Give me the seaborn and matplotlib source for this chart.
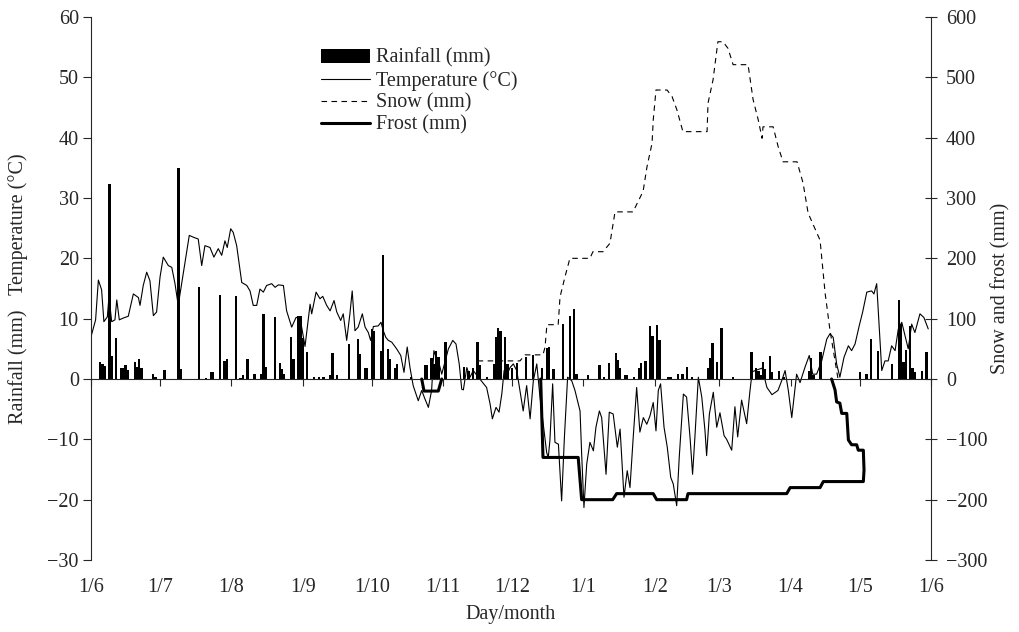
import matplotlib
matplotlib.use('Agg')
import matplotlib.pyplot as plt
import seaborn as sns

# ---------------- data ----------------
month_day = [0, 30, 61, 92, 122, 153, 183, 214, 245, 273, 304, 334, 365]
month_labels = ['1/6', '1/7', '1/8', '1/9', '1/10', '1/11', '1/12',
                '1/1', '1/2', '1/3', '1/4', '1/5', '1/6']

rain_day = [4, 5, 6, 8, 9, 11, 13, 14, 15, 16, 19, 20, 21, 22, 27, 28, 32, 38, 39, 47,
            50, 52, 53, 56, 58, 59, 63, 65, 66, 68, 71, 74, 75, 76, 80, 82, 83, 84, 87, 88,
            90, 91, 92, 94, 97, 99, 101, 104, 105, 107, 112, 116, 117, 119, 120, 122, 123,
            126, 127, 129, 130, 132, 133, 139, 145, 146, 148, 149, 150, 151, 154, 162, 164,
            166, 168, 169, 172, 175, 176, 177, 178, 180, 181, 183, 185, 189, 192, 196, 198,
            199, 201, 205, 208, 210, 211, 216, 221, 223, 225, 228, 229, 230, 232, 233, 236,
            238, 239, 241, 243, 244, 246, 247, 251, 252, 255, 257, 259, 261, 268, 269, 270,
            272, 274, 279, 287, 289, 290, 291, 292, 293, 295, 296, 299, 301, 312, 313, 314,
            317, 334, 337, 339, 342, 348, 351, 352, 353, 354, 356, 357, 358, 361, 363]
rain_mm = [2.9, 2.5, 2.2, 32.3, 3.8, 6.8, 1.8, 1.8, 2.4, 1.5, 2.9, 2.0, 3.3, 1.8, 0.9, 0.4, 1.5, 35.0, 1.6, 15.2,
           0.2, 1.2, 1.2, 14.0, 3.0, 3.3, 13.7, 0.2, 0.7, 3.3, 0.9, 0.9, 10.7, 2.0, 10.2, 2.7, 1.7, 0.8, 7.0, 3.3,
           10.4, 10.4, 6.8, 4.4, 0.3, 0.3, 0.3, 0.7, 4.3, 0.6, 5.8, 6.6, 4.1, 1.8, 1.8, 8.3, 8.0,
           4.7, 20.5, 5.0, 3.3, 1.9, 2.5, 0.3, 2.4, 2.4, 3.5, 2.5, 4.7, 3.6, 6.2, 2.0, 1.4,
           1.8, 6.2, 2.4, 0.4, 2.5, 7.0, 8.5, 8.0, 7.0, 2.5, 1.8, 2.6, 3.7, 4.0, 1.8, 5.1,
           5.3, 1.7, 9.1, 10.4, 11.6, 0.8, 0.7, 2.3, 0.3, 2.6, 4.3, 3.2, 1.9, 0.7, 0.7, 0.4,
           1.8, 2.6, 3.0, 8.8, 7.2, 9.0, 6.4, 0.3, 0.3, 0.9, 0.8, 2.0, 0.4, 1.8, 3.4, 6.0,
           2.8, 8.5, 0.3, 4.4, 1.8, 1.4, 0.6, 2.9, 1.7, 3.8, 1.1, 1.4, 0.3, 1.4, 3.4, 0.6,
           4.5, 1.1, 0.9, 6.6, 4.7, 2.5, 13.1, 9.1, 2.8, 4.8, 8.8, 1.8, 1.1, 1.3, 4.5]

temp_day = [0, 2.0, 3.2, 4.6, 5.6, 7.1, 7.8, 9.0, 10.4, 11.2,
            12.3, 14.0, 16.2, 18.4, 20.6, 21.3, 22.7, 24.2, 25.6, 27.1,
            28.5, 30.0, 31.4, 33.6, 35.1, 36.5, 37.9, 39.4, 40.8, 42.7,
            44.5, 46.6, 48.1, 49.5, 51.7, 53.4, 55.3, 56.8, 58.2, 59.2,
            60.7, 61.8, 63.3, 65.5, 67.7, 69.1, 70.5, 72.0, 73.4, 74.9,
            76.3, 78.5, 80.0, 81.4, 83.6, 85.0, 87.2, 89.1, 90.8, 93.0,
            95.2, 95.9, 97.8, 99.5, 100.7, 102.4, 103.9, 105.6, 106.8, 108.5,
            109.6, 111.1, 112.5, 113.5, 114.7, 116.1, 117.9, 119.1, 120.5, 121.5,
            122.7, 124.8, 126.0, 127.0, 128.1, 129.2, 130.7, 132.8, 134.6, 136.0,
            137.4, 138.6, 140.0, 142.2, 143.7, 145.1, 146.6, 148.0, 149.0, 150.2,
            151.3, 152.4, 153.8, 155.3, 157.2, 158.6, 160.0, 161.1, 161.8, 163.3,
            164.7, 166.1, 168.3, 170.2, 171.9, 173.4, 174.4, 176.0, 177.3, 178.5,
            179.5, 180.6, 182.1, 183.5, 185.0, 186.4, 187.8, 189.3, 190.8, 192.2,
            193.7, 195.1, 196.5, 198.0, 198.7, 199.4, 200.6, 201.6, 203.1, 204.5,
            205.7, 207.1, 208.9, 210.3, 212.5, 213.2, 214.2, 215.4, 216.8, 218.3,
            219.4, 220.9, 221.9, 223.8, 225.2, 226.9, 228.7, 229.9, 231.6, 233.0,
            234.2, 235.6, 237.1, 238.5, 240.0, 241.5, 242.9, 244.3, 245.5, 246.5,
            247.5, 249.0, 250.4, 251.9, 253.0, 254.5, 255.6, 257.4, 258.8, 260.3,
            261.4, 262.4, 263.9, 265.4, 266.8, 267.5, 268.7, 270.4, 271.9, 273.3,
            275.1, 276.2, 278.4, 279.8, 281.0, 282.7, 284.9, 286.3, 287.3, 289.3,
            291.6, 293.7, 295.9, 298.5, 300.1, 301.6, 303.0, 304.5, 305.5, 306.6,
            308.1, 310.2, 312.1, 313.6, 315.3, 317.5, 319.7, 321.1, 322.5, 324.0,
            325.4, 327.2, 329.1, 330.5, 332.0, 333.8, 335.3, 337.1, 339.2, 340.2,
            341.4, 342.5, 343.6, 345.0, 346.4, 347.9, 349.4, 350.8, 352.3, 353.7,
            355.1, 356.6, 358.0, 360.2, 361.9, 363.8]
temp_c = [7.0, 9.8, 16.4, 14.8, 9.5, 10.3, 13.6, 9.5, 9.8, 13.1,
          9.8, 10.1, 10.4, 14.1, 13.5, 12.2, 15.5, 17.7, 16.3, 10.5,
          11.1, 16.9, 20.2, 18.8, 18.5, 15.8, 12.2, 15.8, 19.1, 23.8,
          23.5, 23.2, 18.8, 22.1, 21.8, 20.2, 21.6, 20.5, 22.9, 21.8,
          24.9, 24.3, 22.1, 16.0, 15.5, 14.6, 12.2, 12.2, 14.9, 14.4,
          15.5, 15.8, 15.2, 15.6, 15.5, 11.3, 8.6, 10.2, 10.2, 5.4,
          12.4, 10.8, 14.4, 13.3, 13.7, 12.2, 11.3, 13.0, 11.1, 9.7,
          10.8, 6.4, 10.8, 14.6, 8.0, 8.6, 10.8, 8.6, 7.7, 6.4,
          8.7, 8.8, 9.4, 8.0, 6.9, 6.4, 6.1, 5.0, 3.9, 1.1,
          5.3, 1.9, -1.1, -3.6, -1.9, -3.3, -4.7, -1.9, 4.7, 3.3,
          2.5, 0.8, 2.8, 5.0, 6.4, 5.8, 2.5, -1.7, -1.8, 1.9,
          0.3, 1.4, 0.3, -0.6, -1.4, -4.1, -6.6, -4.7, -5.5, -2.5,
          1.4, 0.6, 1.9, 2.5, 1.4, -1.9, -5.3, -1.1, -6.6, -0.3,
          2.5, -3.0, -7.5, -12.2, -13.0, -10.2, -0.8, -10.5, -10.8, -20.2,
          -9.7, 0.3, -0.3, -1.9, -5.3, -12.4, -21.3, -14.1, -10.5, -11.9,
          -8.0, -5.3, -6.4, -15.8, -5.5, -5.8, -11.3, -8.3, -19.6, -15.2,
          -18.0, -9.7, -1.4, -8.8, -6.4, -7.5, -6.1, -3.9, -8.6, -1.9,
          -0.8, -8.0, -11.3, -16.3, -17.4, -21.0, -13.0, -2.5, -3.0, -9.7,
          -15.8, -9.7, 0.3, -3.0, -8.6, -12.7, -5.8, -2.2, -8.0, -5.6,
          -9.4, -10.0, -11.8, -4.6, -9.6, -3.5, -7.4, -2.1, 1.2, 1.5,
          1.8, -1.4, -2.6, -1.9, -0.3, 1.4, -1.9, -6.4, -3.0, 0.8,
          -0.6, 1.9, 3.9, 0.8, 0.8, 3.0, 6.6, 7.5, 6.9, 2.5,
          0.3, 3.6, 5.5, 4.7, 5.8, 8.8, 11.1, 14.4, 14.6, 14.1,
          15.8, 8.6, 1.4, 3.0, 3.0, 5.5, 4.7, 8.3, 9.4, 7.2,
          5.0, 9.1, 7.7, 10.8, 10.2, 8.3]

snow_day = [168, 186.4, 188.6, 196.4, 197.3, 198.1, 203.0, 203.8, 206.0, 208.1,
            216.8, 218.1, 222.5, 225.5, 227.7, 235.5, 239.9, 241.6, 243.8, 244.3,
            245.5, 250.3, 252.5, 254.6, 257.2, 267.7, 268.1, 270.3, 272.4, 274.6,
            276.8, 279.0, 285.5, 287.7, 289.9, 291.6, 292.0, 296.4, 298.6, 300.7,
            306.8, 309.4, 311.6, 316.8, 319.0, 321.1, 324.6]
snow_mm = [30, 30, 40, 40, 53, 90, 90, 136, 170, 200,
           200, 211, 211, 225, 277, 277, 311, 352, 391, 429,
           479, 479, 468, 446, 410, 410, 457, 496, 559, 559,
           548, 521, 521, 463, 430, 399, 418, 418, 385, 360,
           360, 325, 275, 230, 142, 81, 0]

frost_day = [195.4, 196.4, 211.7, 213.2, 226.7, 228.4, 244.3, 245.8, 258.8, 259.4,
             302.3, 303.8, 316.8, 318.2, 335.6, 335.9, 335.6, 333.4, 332.7, 330.5,
             329.1, 328.4, 326.2, 325.4, 324.0, 323.3, 321.8]
frost_mm = [0, -130, -130, -200, -200, -190, -190, -200, -200, -190,
            -190, -180, -180, -170, -170, -151, -118, -118, -109, -109,
            -101, -57, -57, -40, -38, -18, 0]

frost_nov_day = [143.7, 144.7, 150.9, 152.4]
frost_nov_mm = [0, -20, -20, 0]

# ---------------- style ----------------
sns.set_style('ticks')
plt.rcParams['font.family'] = ['Liberation Serif', 'DejaVu Serif']
plt.rcParams['axes.linewidth'] = 0.8
FS = 14.5

fig = plt.figure(figsize=(10.19, 6.32), dpi=100)
ax = fig.add_axes([91 / 1019, 1 - 560 / 632, 840 / 1019, 543 / 632])
ax2 = ax.twinx()

# rainfall bars
sns.barplot(x=rain_day, y=rain_mm, native_scale=True, orient='x', color='black',
            saturation=1, errorbar=None, width=1.0, linewidth=0, ax=ax)
bar_handle = ax.patches[0]

# temperature line
sns.lineplot(x=temp_day, y=temp_c, sort=False, estimator=None, color='black',
             linewidth=0.8, ax=ax, legend=False)
temp_handle = ax.lines[-1]

# snow & frost on right axis
sns.lineplot(x=snow_day, y=snow_mm, sort=False, estimator=None, color='black',
             linewidth=0.8, linestyle=(0, (5, 4)), ax=ax2, legend=False)
snow_handle = ax2.lines[-1]
sns.lineplot(x=frost_day, y=frost_mm, sort=False, estimator=None, color='black',
             linewidth=2.2, ax=ax2, legend=False)
frost_handle = ax2.lines[-1]
sns.lineplot(x=frost_nov_day, y=frost_nov_mm, sort=False, estimator=None, color='black',
             linewidth=2.2, ax=ax2, legend=False)

# ---------------- axes ----------------
ax.set_xlim(0, 365)
ax.set_ylim(-30, 60)
ax.set_yticks(range(-30, 61, 10))
ax2.set_ylim(-300, 600)
ax2.set_yticks(range(-300, 601, 100))

for s in ['top', 'right']:
    ax.spines[s].set_visible(False)
ax.spines['bottom'].set_position(('data', 0))
for s in ['top', 'left', 'bottom']:
    ax2.spines[s].set_visible(False)

ax.set_xticks(month_day)
ax.tick_params(axis='x', direction='out', length=5, width=0.8, labelbottom=False)
ax.tick_params(axis='y', direction='out', length=5.8, width=0.8, pad=3, labelsize=FS)
ax2.tick_params(axis='y', direction='inout', length=8.6, width=0.8, pad=6.5, labelsize=FS)

sec = ax.secondary_xaxis('bottom')
sec.set_xticks(month_day, labels=month_labels)
sec.tick_params(length=0, pad=13, labelsize=FS)
sec.spines['bottom'].set_visible(False)
sec.set_xlabel('Day/month', fontsize=FS, labelpad=6)

ax.set_ylabel('Rainfall (mm)   Temperature (\u00b0C)', fontsize=FS)
ax.yaxis.set_label_coords(-0.075, 0.5)
ax2.set_ylabel('Snow and frost (mm)', fontsize=FS)
ax2.yaxis.set_label_coords(1.071, 0.5)

ax2.legend([bar_handle, temp_handle, snow_handle, frost_handle],
           ['Rainfall (mm)', 'Temperature (\u00b0C)', 'Snow (mm)', 'Frost (mm)'],
           loc='upper left', bbox_to_anchor=(0.2738, 0.942), frameon=False,
           fontsize=FS, handlelength=2.45, handletextpad=0.3, labelspacing=0.14,
           borderaxespad=0, borderpad=0)

fig.savefig('out.png', dpi=100)
